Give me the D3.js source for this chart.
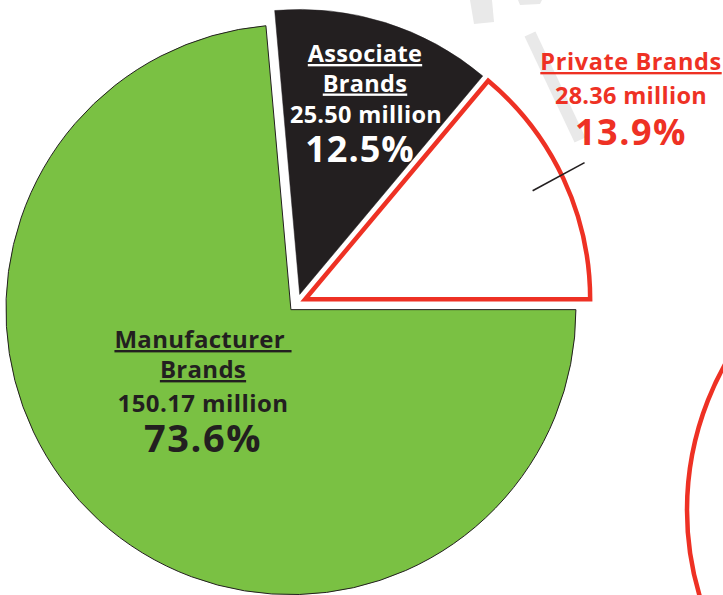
<!DOCTYPE html>
<html><head><meta charset="utf-8">
<script src="https://cdn.jsdelivr.net/npm/d3@7"></script>
<style>
body{margin:0;background:#fff}
svg{display:block}
text{font-family:"Open Sans","Noto Sans",sans-serif;font-weight:700}
</style>
</head><body>
<svg id="chart" width="723" height="595"></svg>
<script>
// ---- data ----
const categories = ["Manufacturer Brands", "Associate Brands", "Private Brands"];
const values = [150.17, 25.50, 28.36];
const valueLabels = ["150.17 million", "25.50 million", "28.36 million"];
const percentLabels = ["73.6%", "12.5%", "13.9%"];
const nameLines = [["Manufacturer\u00a0", "Brands"], ["Associate", "Brands"], ["Private Brands"]];

// ---- style / layout ----
const fills   = ["#7ac143", "#231f20", "#ffffff"];
const strokes = ["#231f20", "#231f20", "#ee3124"];
const strokeW = [1, 0.5, 4.5];
const textCol = ["#231f20", "#ffffff", "#ee3124"];
const cx = 297, cy = 303, R = 285, explode = 9;
const labelX = [[203, 203, 203], [365, 366, 360], [631, 631, 631]]; // name, value, percent
const labelY0 = [348, 62, 70];
const lineGaps = [[30, 34, 40], [29.5, 31.5, 38.5], [33.5, 41]];
const nameSize = [24, 23.5, 23.5], nameLS = [0.3, 0.3, 0.6];
const valSize = [24, 23.5, 23.5], valLS = [0.4, 0.3, 0.3];
const pctSize = [38, 36, 36], pctLS = [1.5, 1, 1.5];

const svg = d3.select("#chart");

// faint background decorations
const deco = svg.append("g").attr("fill", "#e9e9e9");
deco.append("polygon").attr("points", "470,0 492,0 494,22 474,24");
deco.append("polygon").attr("points", "518,0 542,0 540,4 520,5");
deco.append("line").attr("x1", 530).attr("y1", 34).attr("x2", 580).attr("y2", 140)
  .attr("stroke", "#e9e9e9").attr("stroke-width", 12);

// red ring at lower right
svg.append("circle").attr("cx", 985).attr("cy", 510).attr("r", 298)
  .attr("fill", "none").attr("stroke", "#ee3124").attr("stroke-width", 4.5);

const pie = d3.pie().sort(null).value(d => d)
  .startAngle(Math.PI / 2).endAngle(Math.PI / 2 + 2 * Math.PI);
const arcs = pie(values);
const arc = d3.arc().innerRadius(0).outerRadius(R);
const leaderArc = d3.arc();

const g = svg.append("g").attr("transform", `translate(${cx},${cy})`);

arcs.forEach((a, i) => {
  const mid = (a.startAngle + a.endAngle) / 2;
  const dx = Math.sin(mid) * explode, dy = -Math.cos(mid) * explode;
  const sg = g.append("g").attr("transform", `translate(${dx},${dy})`);
  sg.append("path").attr("d", arc(a))
    .attr("fill", fills[i]).attr("stroke", strokes[i])
    .attr("stroke-width", strokeW[i]).attr("stroke-linejoin", "miter");
  if (i === 2) {
    // leader line along the slice bisector
    const p1 = leaderArc.centroid({innerRadius: 252, outerRadius: 252, startAngle: mid - 0.008, endAngle: mid - 0.008});
    const p2 = leaderArc.centroid({innerRadius: 311, outerRadius: 311, startAngle: mid - 0.018, endAngle: mid - 0.018});
    sg.append("line").attr("x1", p1[0]).attr("y1", p1[1]).attr("x2", p2[0]).attr("y2", p2[1])
      .attr("stroke", "#231f20").attr("stroke-width", 1.6);
  }
});

// labels
categories.forEach((c, i) => {
  const [xn, xv, xp] = labelX[i];
  const t = svg.append("g").attr("fill", textCol[i]).attr("text-anchor", "middle");
  let y = labelY0[i], k = 0;
  nameLines[i].forEach((ln, j) => {
    if (j > 0) { y += lineGaps[i][k++]; }
    t.append("text").attr("x", xn).attr("y", y).attr("font-size", nameSize[i])
      .attr("letter-spacing", nameLS[i])
      .attr("text-decoration", "underline").text(ln);
  });
  y += lineGaps[i][k++];
  t.append("text").attr("x", xv).attr("y", y).attr("font-size", valSize[i])
    .attr("letter-spacing", valLS[i]).text(valueLabels[i]);
  y += lineGaps[i][k++];
  t.append("text").attr("x", xp).attr("y", y).attr("font-size", pctSize[i])
    .attr("letter-spacing", pctLS[i]).text(percentLabels[i]);
});
</script>
</body></html>
